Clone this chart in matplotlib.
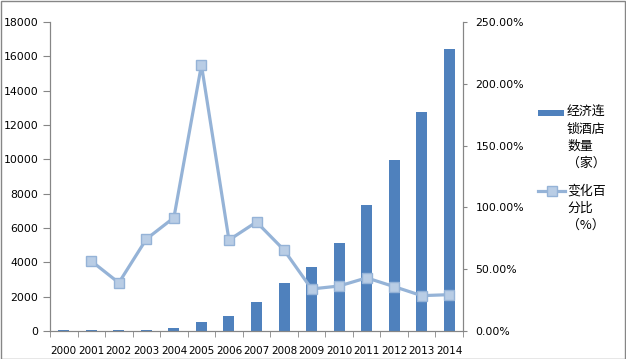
import matplotlib
matplotlib.use("Agg")
import matplotlib.pyplot as plt
from matplotlib.ticker import FuncFormatter, FixedLocator
from matplotlib.patches import Rectangle
from matplotlib.lines import Line2D
import numpy as np

plt.rcParams['font.family'] = ['DejaVu Sans', 'Noto Sans CJK SC']

years = ["2000", "2001", "2002", "2003", "2004", "2005", "2006", "2007",
         "2008", "2009", "2010", "2011", "2012", "2013", "2014"]
hotels = [50, 50, 60, 70, 190, 540, 870, 1690, 2800, 3730, 5140, 7340, 9950, 12750, 16420]
pct = [np.nan, 56.6, 39.0, 74.4, 91.7, 215.2, 73.6, 88.2, 65.5, 34.0, 36.4, 43.0, 35.9, 28.6, 29.4]
bar_label = ["经济连", "锁酒店", "数量", "（家）"]
line_label = ["变化百", "分比", "（%）"]

W, H = 626, 359
fig = plt.figure(figsize=(W / 100, H / 100), dpi=100)
ax = fig.add_axes([50 / W, 1 - 331 / H, (463 - 50) / W, (331 - 22) / H])
ax2 = ax.twinx()

bar_c = "#4F81BD"
line_c = "#95B3D7"
mfc = "#B9CDE5"
lw = 2.3
ms = 7

x = np.arange(len(years))
ax.bar(x, hotels, width=0.4, color=bar_c, zorder=2)
ax.set_xlim(-0.5, len(years) - 0.5)
ax.set_ylim(0, 18000)
ax.set_yticks(np.arange(0, 18001, 2000))

ax2.plot(x, pct, color=line_c, lw=lw, marker="s", ms=ms,
         mfc=mfc, mec=line_c, mew=1.0, zorder=3)
ax2.set_ylim(0, 250)
ax2.set_yticks(np.arange(0, 251, 50))
ax2.yaxis.set_major_formatter(FuncFormatter(lambda v, p: f"{v:.2f}%"))

gray = "#868686"
for a in (ax, ax2):
    a.spines['top'].set_visible(False)
    for s in ('left', 'right', 'bottom'):
        a.spines[s].set_color(gray)
ax.set_xticks(x)
ax.set_xticklabels(years)
ax.xaxis.set_minor_locator(FixedLocator(np.arange(-0.5, len(years), 1)))
ax.tick_params(axis='x', which='major', length=0, labelsize=7.5, pad=11)
ax.tick_params(axis='x', which='minor', length=4, color=gray)
ax.tick_params(axis='y', length=5, color=gray, labelsize=7.8, pad=3.5)
ax2.tick_params(axis='y', length=3, color=gray, labelsize=7.8, pad=6)

# legend (drawn manually so the keys sit beside the first text line)
cjk = ['Noto Sans CJK SC', 'DejaVu Sans']
fs = 9.3
def fy(py):
    return 1 - py / H

fig.add_artist(Rectangle((538 / W, fy(115.5)), 26 / W, 6 / H, transform=fig.transFigure,
                         color=bar_c, lw=0))
for i, t in enumerate(bar_label):
    fig.text(567 / W, fy(112 + 17.2 * i), t, fontsize=fs, family=cjk, va='center', ha='left')

fig.add_artist(Line2D([538 / W, 565 / W], [fy(191), fy(191)], transform=fig.transFigure,
                      color=line_c, lw=lw))
fig.add_artist(Line2D([551.5 / W], [fy(191)], transform=fig.transFigure, marker="s", ms=ms,
                      mfc=mfc, mec=line_c, mew=1.0, lw=0))
for i, t in enumerate(line_label):
    fig.text(567 / W, fy(191 + 17 * i), t, fontsize=fs, family=cjk, va='center', ha='left')

fig.add_artist(Rectangle((0.5 / W, 0.5 / H), 1 - 1.5 / W, 1 - 1.5 / H,
                         transform=fig.transFigure, fill=False,
                         edgecolor="#868686", lw=1))
fig.savefig("out.png", dpi=100)
